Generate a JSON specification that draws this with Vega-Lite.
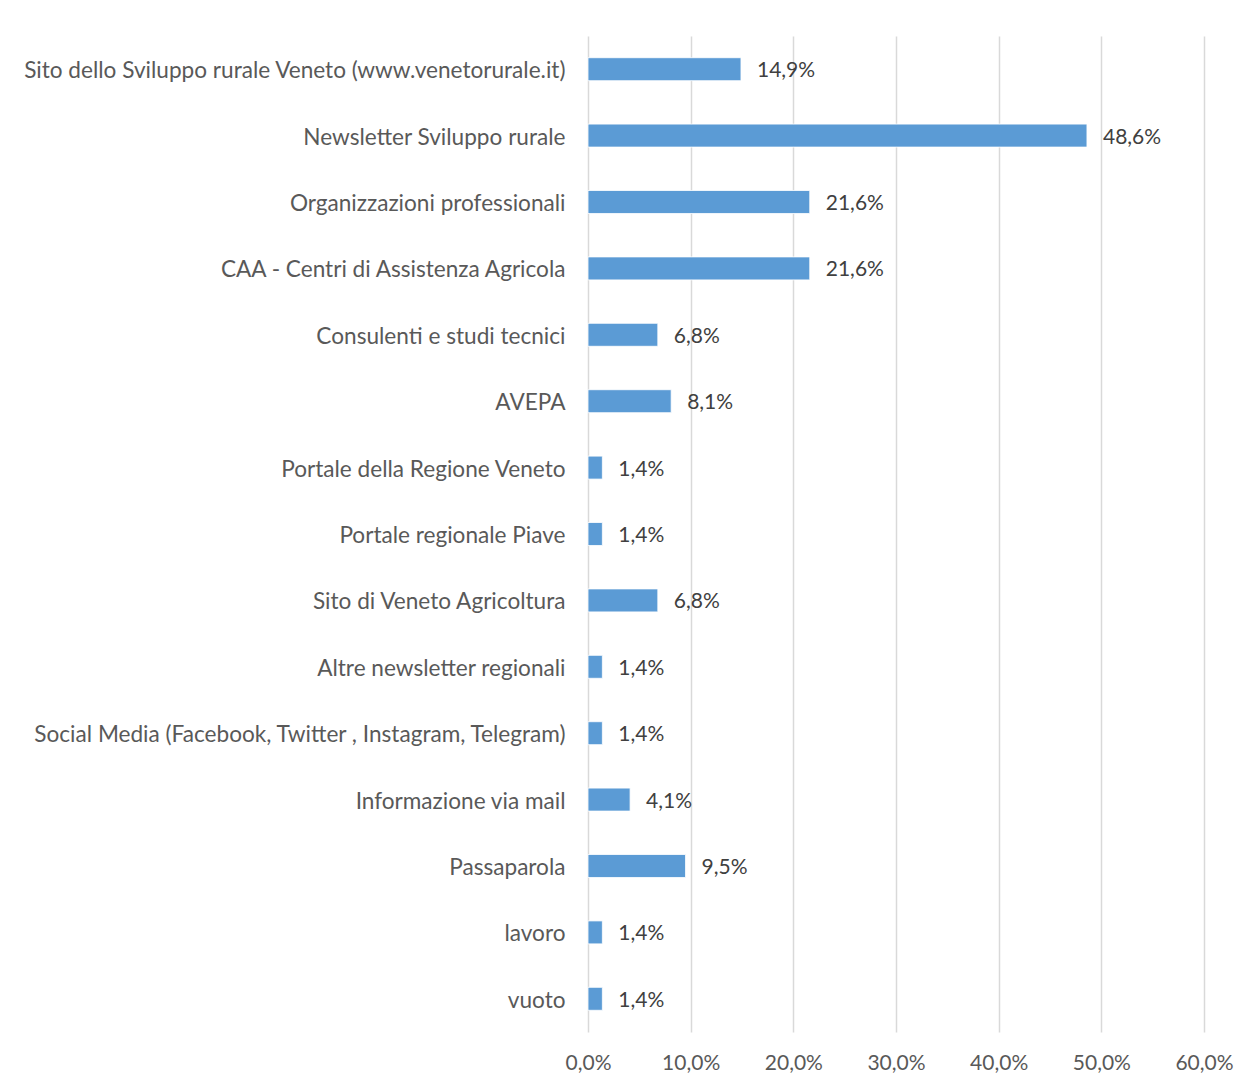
{
  "$schema": "https://vega.github.io/schema/vega-lite/v6.json",
  "width": 616,
  "height": 996,
  "autosize": {"type": "none"},
  "padding": {"left": 588, "top": 36, "right": 56, "bottom": 56},
  "background": "white",
  "data": {
    "values": [
      {"fonte": "Sito dello Sviluppo rurale Veneto (www.venetorurale.it)", "quota": 0.149},
      {"fonte": "Newsletter Sviluppo rurale", "quota": 0.486},
      {"fonte": "Organizzazioni professionali", "quota": 0.216},
      {"fonte": "CAA - Centri di Assistenza Agricola", "quota": 0.216},
      {"fonte": "Consulenti e studi tecnici", "quota": 0.068},
      {"fonte": "AVEPA", "quota": 0.081},
      {"fonte": "Portale della Regione Veneto", "quota": 0.014},
      {"fonte": "Portale regionale Piave", "quota": 0.014},
      {"fonte": "Sito di Veneto Agricoltura", "quota": 0.068},
      {"fonte": "Altre newsletter regionali", "quota": 0.014},
      {"fonte": "Social Media (Facebook, Twitter , Instagram, Telegram)", "quota": 0.014},
      {"fonte": "Informazione via mail", "quota": 0.041},
      {"fonte": "Passaparola", "quota": 0.095},
      {"fonte": "lavoro", "quota": 0.014},
      {"fonte": "vuoto", "quota": 0.014}
    ]
  },
  "encoding": {
    "y": {
      "field": "fonte",
      "type": "nominal",
      "sort": null,
      "scale": {"paddingInner": 0.654, "paddingOuter": 0.327},
      "axis": {
        "title": null,
        "ticks": false,
        "domain": false,
        "labelPadding": 23,
        "labelOffset": 2,
        "labelFont": "Lato",
        "labelFontSize": 22.6,
        "labelColor": "#595959",
        "labelLimit": 600
      }
    },
    "x": {
      "field": "quota",
      "type": "quantitative",
      "scale": {"domain": [0, 0.6]},
      "axis": {
        "title": null,
        "format": ".1%",
        "values": [0, 0.1, 0.2, 0.3, 0.4, 0.5, 0.6],
        "ticks": false,
        "domain": false,
        "grid": true,
        "gridColor": "#D9D9D9",
        "gridWidth": 1.5,
        "labelPadding": 20,
        "labelFont": "Lato",
        "labelFontSize": 21,
        "labelColor": "#595959",
        "labelFlush": false
      }
    }
  },
  "layer": [
    {
      "mark": {"type": "bar", "color": "#5B9BD5", "stroke": "#ffffff", "strokeWidth": 0.8}
    },
    {
      "mark": {
        "type": "text",
        "align": "left",
        "baseline": "middle",
        "dx": 16,
        "dy": 2,
        "font": "Lato",
        "fontSize": 21,
        "color": "#404040"
      },
      "encoding": {
        "text": {"field": "quota", "type": "quantitative", "format": ".1%"}
      }
    }
  ],
  "config": {
    "view": {"stroke": null},
    "locale": {
      "number": {
        "decimal": ",",
        "thousands": ".",
        "grouping": [3],
        "currency": ["", " €"]
      }
    }
  }
}
